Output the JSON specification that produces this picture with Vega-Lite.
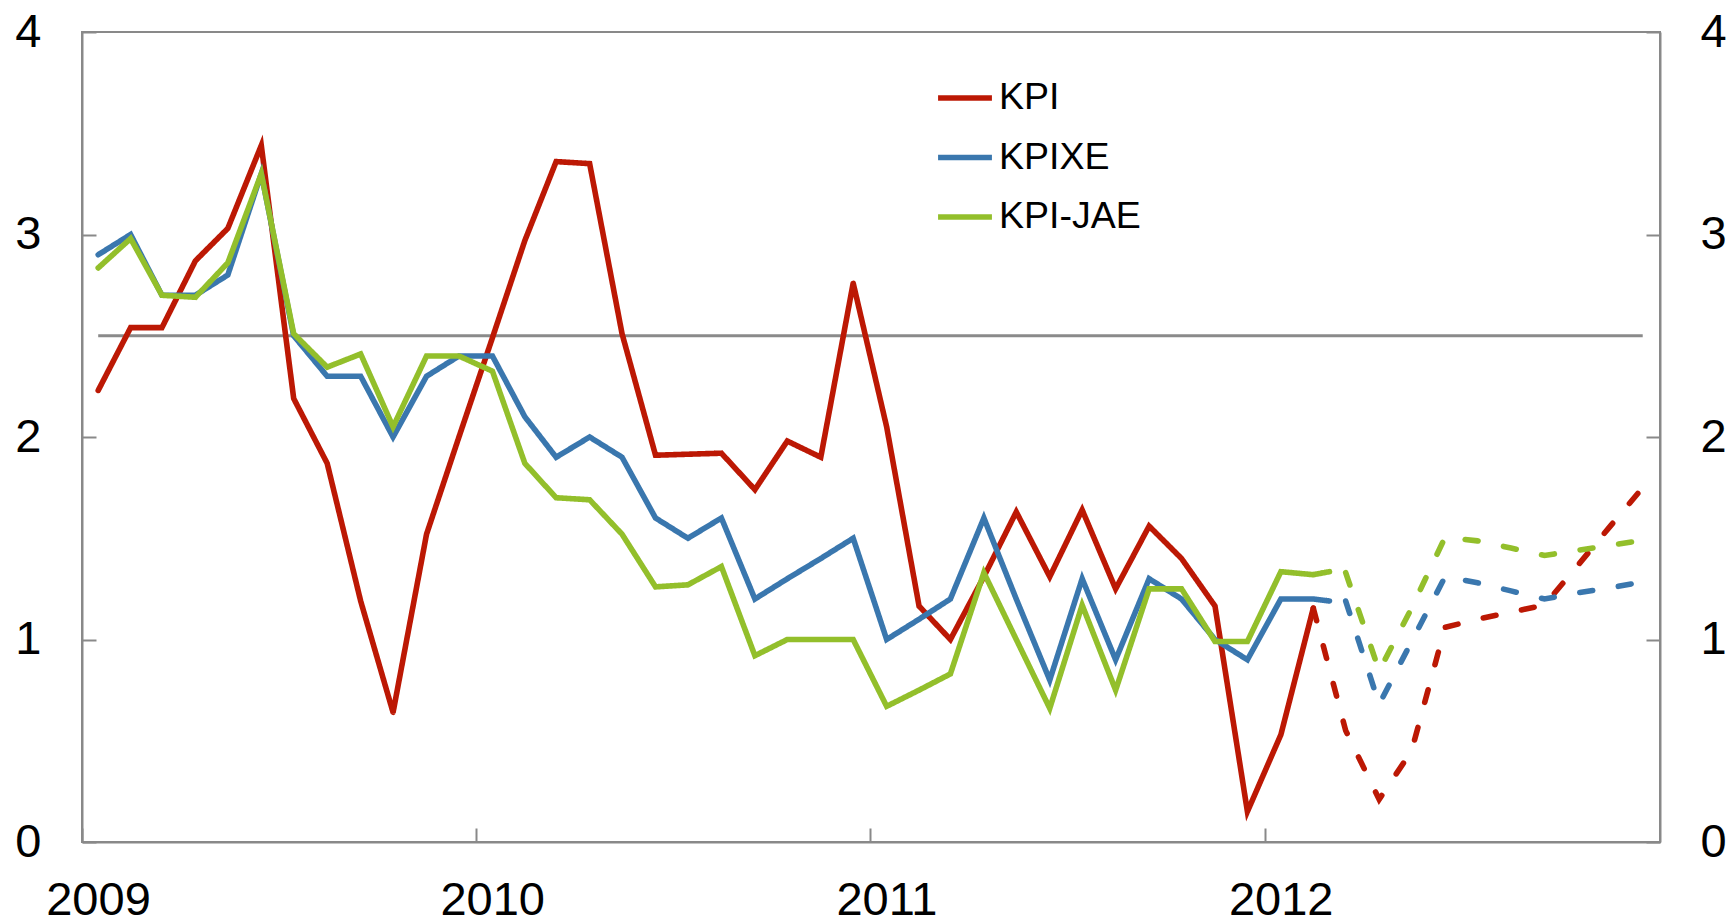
{
  "$schema": "https://vega.github.io/schema/vega-lite/v6.json",
  "width": 1578,
  "height": 810,
  "autosize": {"type": "none"},
  "padding": {"left": 82, "top": 32, "right": 71, "bottom": 80},
  "background": "white",
  "config": {
    "view": {"stroke": "#898989", "strokeWidth": 2},
    "font": "Liberation Sans",
    "axis": {
      "grid": false,
      "title": null,
      "domainColor": "#898989",
      "domainWidth": 2,
      "tickColor": "#898989",
      "tickWidth": 2,
      "tickSize": -14,
      "labelFont": "Liberation Sans",
      "labelFontSize": 47,
      "labelColor": "#000000"
    }
  },
  "datasets": {
    "target": [{"start": "2009-01-16", "end": "2012-12-16", "target": 2.5}],
    "series": [
      {"date": "2009-01-16", "series": "KPI", "kind": "actual", "value": 2.23},
      {"date": "2009-02-15", "series": "KPI", "kind": "actual", "value": 2.54},
      {"date": "2009-03-16", "series": "KPI", "kind": "actual", "value": 2.54},
      {"date": "2009-04-16", "series": "KPI", "kind": "actual", "value": 2.87},
      {"date": "2009-05-16", "series": "KPI", "kind": "actual", "value": 3.03},
      {"date": "2009-06-16", "series": "KPI", "kind": "actual", "value": 3.44},
      {"date": "2009-07-16", "series": "KPI", "kind": "actual", "value": 2.19},
      {"date": "2009-08-16", "series": "KPI", "kind": "actual", "value": 1.87},
      {"date": "2009-09-16", "series": "KPI", "kind": "actual", "value": 1.19},
      {"date": "2009-10-16", "series": "KPI", "kind": "actual", "value": 0.64},
      {"date": "2009-11-16", "series": "KPI", "kind": "actual", "value": 1.52},
      {"date": "2009-12-16", "series": "KPI", "kind": "actual", "value": 2.0},
      {"date": "2010-01-16", "series": "KPI", "kind": "actual", "value": 2.49},
      {"date": "2010-02-15", "series": "KPI", "kind": "actual", "value": 2.97},
      {"date": "2010-03-16", "series": "KPI", "kind": "actual", "value": 3.36},
      {"date": "2010-04-16", "series": "KPI", "kind": "actual", "value": 3.35},
      {"date": "2010-05-16", "series": "KPI", "kind": "actual", "value": 2.51},
      {"date": "2010-06-16", "series": "KPI", "kind": "actual", "value": 1.91},
      {"date": "2010-07-16", "series": "KPI", "kind": "actual", "value": 1.915},
      {"date": "2010-08-16", "series": "KPI", "kind": "actual", "value": 1.92},
      {"date": "2010-09-16", "series": "KPI", "kind": "actual", "value": 1.74},
      {"date": "2010-10-16", "series": "KPI", "kind": "actual", "value": 1.98},
      {"date": "2010-11-16", "series": "KPI", "kind": "actual", "value": 1.9},
      {"date": "2010-12-16", "series": "KPI", "kind": "actual", "value": 2.76},
      {"date": "2011-01-16", "series": "KPI", "kind": "actual", "value": 2.05},
      {"date": "2011-02-15", "series": "KPI", "kind": "actual", "value": 1.165},
      {"date": "2011-03-16", "series": "KPI", "kind": "actual", "value": 1.0},
      {"date": "2011-04-16", "series": "KPI", "kind": "actual", "value": 1.31},
      {"date": "2011-05-16", "series": "KPI", "kind": "actual", "value": 1.63},
      {"date": "2011-06-16", "series": "KPI", "kind": "actual", "value": 1.31},
      {"date": "2011-07-16", "series": "KPI", "kind": "actual", "value": 1.64},
      {"date": "2011-08-16", "series": "KPI", "kind": "actual", "value": 1.25},
      {"date": "2011-09-16", "series": "KPI", "kind": "actual", "value": 1.56},
      {"date": "2011-10-16", "series": "KPI", "kind": "actual", "value": 1.4},
      {"date": "2011-11-16", "series": "KPI", "kind": "actual", "value": 1.165},
      {"date": "2011-12-16", "series": "KPI", "kind": "actual", "value": 0.15},
      {"date": "2012-01-16", "series": "KPI", "kind": "actual", "value": 0.53},
      {"date": "2012-02-15", "series": "KPI", "kind": "actual", "value": 1.155},
      {"date": "2012-02-15", "series": "KPI", "kind": "projection", "value": 1.155},
      {"date": "2012-03-16", "series": "KPI", "kind": "projection", "value": 0.55},
      {"date": "2012-04-16", "series": "KPI", "kind": "projection", "value": 0.21},
      {"date": "2012-05-16", "series": "KPI", "kind": "projection", "value": 0.45},
      {"date": "2012-06-16", "series": "KPI", "kind": "projection", "value": 1.06},
      {"date": "2012-07-16", "series": "KPI", "kind": "projection", "value": 1.1},
      {"date": "2012-08-16", "series": "KPI", "kind": "projection", "value": 1.135},
      {"date": "2012-09-16", "series": "KPI", "kind": "projection", "value": 1.17},
      {"date": "2012-10-16", "series": "KPI", "kind": "projection", "value": 1.36},
      {"date": "2012-11-16", "series": "KPI", "kind": "projection", "value": 1.56},
      {"date": "2012-12-16", "series": "KPI", "kind": "projection", "value": 1.75},

      {"date": "2009-01-16", "series": "KPIXE", "kind": "actual", "value": 2.9},
      {"date": "2009-02-15", "series": "KPIXE", "kind": "actual", "value": 3.0},
      {"date": "2009-03-16", "series": "KPIXE", "kind": "actual", "value": 2.7},
      {"date": "2009-04-16", "series": "KPIXE", "kind": "actual", "value": 2.7},
      {"date": "2009-05-16", "series": "KPIXE", "kind": "actual", "value": 2.8},
      {"date": "2009-06-16", "series": "KPIXE", "kind": "actual", "value": 3.3},
      {"date": "2009-07-16", "series": "KPIXE", "kind": "actual", "value": 2.5},
      {"date": "2009-08-16", "series": "KPIXE", "kind": "actual", "value": 2.3},
      {"date": "2009-09-16", "series": "KPIXE", "kind": "actual", "value": 2.3},
      {"date": "2009-10-16", "series": "KPIXE", "kind": "actual", "value": 2.0},
      {"date": "2009-11-16", "series": "KPIXE", "kind": "actual", "value": 2.3},
      {"date": "2009-12-16", "series": "KPIXE", "kind": "actual", "value": 2.4},
      {"date": "2010-01-16", "series": "KPIXE", "kind": "actual", "value": 2.4},
      {"date": "2010-02-15", "series": "KPIXE", "kind": "actual", "value": 2.1},
      {"date": "2010-03-16", "series": "KPIXE", "kind": "actual", "value": 1.9},
      {"date": "2010-04-16", "series": "KPIXE", "kind": "actual", "value": 2.0},
      {"date": "2010-05-16", "series": "KPIXE", "kind": "actual", "value": 1.9},
      {"date": "2010-06-16", "series": "KPIXE", "kind": "actual", "value": 1.6},
      {"date": "2010-07-16", "series": "KPIXE", "kind": "actual", "value": 1.5},
      {"date": "2010-08-16", "series": "KPIXE", "kind": "actual", "value": 1.6},
      {"date": "2010-09-16", "series": "KPIXE", "kind": "actual", "value": 1.2},
      {"date": "2010-10-16", "series": "KPIXE", "kind": "actual", "value": 1.3},
      {"date": "2010-11-16", "series": "KPIXE", "kind": "actual", "value": 1.4},
      {"date": "2010-12-16", "series": "KPIXE", "kind": "actual", "value": 1.5},
      {"date": "2011-01-16", "series": "KPIXE", "kind": "actual", "value": 1.0},
      {"date": "2011-02-15", "series": "KPIXE", "kind": "actual", "value": 1.1},
      {"date": "2011-03-16", "series": "KPIXE", "kind": "actual", "value": 1.2},
      {"date": "2011-04-16", "series": "KPIXE", "kind": "actual", "value": 1.6},
      {"date": "2011-05-16", "series": "KPIXE", "kind": "actual", "value": 1.2},
      {"date": "2011-06-16", "series": "KPIXE", "kind": "actual", "value": 0.8},
      {"date": "2011-07-16", "series": "KPIXE", "kind": "actual", "value": 1.3},
      {"date": "2011-08-16", "series": "KPIXE", "kind": "actual", "value": 0.9},
      {"date": "2011-09-16", "series": "KPIXE", "kind": "actual", "value": 1.3},
      {"date": "2011-10-16", "series": "KPIXE", "kind": "actual", "value": 1.2},
      {"date": "2011-11-16", "series": "KPIXE", "kind": "actual", "value": 1.0},
      {"date": "2011-12-16", "series": "KPIXE", "kind": "actual", "value": 0.9},
      {"date": "2012-01-16", "series": "KPIXE", "kind": "actual", "value": 1.2},
      {"date": "2012-02-15", "series": "KPIXE", "kind": "actual", "value": 1.2},
      {"date": "2012-03-01", "series": "KPIXE", "kind": "actual", "value": 1.19},
      {"date": "2012-03-16", "series": "KPIXE", "kind": "projection", "value": 1.19},
      {"date": "2012-04-16", "series": "KPIXE", "kind": "projection", "value": 0.68},
      {"date": "2012-05-16", "series": "KPIXE", "kind": "projection", "value": 0.99},
      {"date": "2012-06-16", "series": "KPIXE", "kind": "projection", "value": 1.31},
      {"date": "2012-07-16", "series": "KPIXE", "kind": "projection", "value": 1.28},
      {"date": "2012-08-16", "series": "KPIXE", "kind": "projection", "value": 1.24},
      {"date": "2012-09-16", "series": "KPIXE", "kind": "projection", "value": 1.2},
      {"date": "2012-10-16", "series": "KPIXE", "kind": "projection", "value": 1.23},
      {"date": "2012-11-16", "series": "KPIXE", "kind": "projection", "value": 1.255},
      {"date": "2012-12-16", "series": "KPIXE", "kind": "projection", "value": 1.285},

      {"date": "2009-01-16", "series": "KPI-JAE", "kind": "actual", "value": 2.835},
      {"date": "2009-02-15", "series": "KPI-JAE", "kind": "actual", "value": 2.98},
      {"date": "2009-03-16", "series": "KPI-JAE", "kind": "actual", "value": 2.7},
      {"date": "2009-04-16", "series": "KPI-JAE", "kind": "actual", "value": 2.69},
      {"date": "2009-05-16", "series": "KPI-JAE", "kind": "actual", "value": 2.86},
      {"date": "2009-06-16", "series": "KPI-JAE", "kind": "actual", "value": 3.3},
      {"date": "2009-07-16", "series": "KPI-JAE", "kind": "actual", "value": 2.51},
      {"date": "2009-08-16", "series": "KPI-JAE", "kind": "actual", "value": 2.345},
      {"date": "2009-09-16", "series": "KPI-JAE", "kind": "actual", "value": 2.41},
      {"date": "2009-10-16", "series": "KPI-JAE", "kind": "actual", "value": 2.05},
      {"date": "2009-11-16", "series": "KPI-JAE", "kind": "actual", "value": 2.4},
      {"date": "2009-12-16", "series": "KPI-JAE", "kind": "actual", "value": 2.4},
      {"date": "2010-01-16", "series": "KPI-JAE", "kind": "actual", "value": 2.325},
      {"date": "2010-02-15", "series": "KPI-JAE", "kind": "actual", "value": 1.87},
      {"date": "2010-03-16", "series": "KPI-JAE", "kind": "actual", "value": 1.7},
      {"date": "2010-04-16", "series": "KPI-JAE", "kind": "actual", "value": 1.69},
      {"date": "2010-05-16", "series": "KPI-JAE", "kind": "actual", "value": 1.52},
      {"date": "2010-06-16", "series": "KPI-JAE", "kind": "actual", "value": 1.26},
      {"date": "2010-07-16", "series": "KPI-JAE", "kind": "actual", "value": 1.27},
      {"date": "2010-08-16", "series": "KPI-JAE", "kind": "actual", "value": 1.36},
      {"date": "2010-09-16", "series": "KPI-JAE", "kind": "actual", "value": 0.92},
      {"date": "2010-10-16", "series": "KPI-JAE", "kind": "actual", "value": 1.0},
      {"date": "2010-11-16", "series": "KPI-JAE", "kind": "actual", "value": 1.0},
      {"date": "2010-12-16", "series": "KPI-JAE", "kind": "actual", "value": 1.0},
      {"date": "2011-01-16", "series": "KPI-JAE", "kind": "actual", "value": 0.67},
      {"date": "2011-02-15", "series": "KPI-JAE", "kind": "actual", "value": 0.75},
      {"date": "2011-03-16", "series": "KPI-JAE", "kind": "actual", "value": 0.83},
      {"date": "2011-04-16", "series": "KPI-JAE", "kind": "actual", "value": 1.33},
      {"date": "2011-05-16", "series": "KPI-JAE", "kind": "actual", "value": 1.0},
      {"date": "2011-06-16", "series": "KPI-JAE", "kind": "actual", "value": 0.66},
      {"date": "2011-07-16", "series": "KPI-JAE", "kind": "actual", "value": 1.17},
      {"date": "2011-08-16", "series": "KPI-JAE", "kind": "actual", "value": 0.75},
      {"date": "2011-09-16", "series": "KPI-JAE", "kind": "actual", "value": 1.25},
      {"date": "2011-10-16", "series": "KPI-JAE", "kind": "actual", "value": 1.25},
      {"date": "2011-11-16", "series": "KPI-JAE", "kind": "actual", "value": 0.99},
      {"date": "2011-12-16", "series": "KPI-JAE", "kind": "actual", "value": 0.99},
      {"date": "2012-01-16", "series": "KPI-JAE", "kind": "actual", "value": 1.335},
      {"date": "2012-02-15", "series": "KPI-JAE", "kind": "actual", "value": 1.32},
      {"date": "2012-03-01", "series": "KPI-JAE", "kind": "actual", "value": 1.335},
      {"date": "2012-03-16", "series": "KPI-JAE", "kind": "projection", "value": 1.33},
      {"date": "2012-04-16", "series": "KPI-JAE", "kind": "projection", "value": 0.845},
      {"date": "2012-05-16", "series": "KPI-JAE", "kind": "projection", "value": 1.155},
      {"date": "2012-06-16", "series": "KPI-JAE", "kind": "projection", "value": 1.505},
      {"date": "2012-07-16", "series": "KPI-JAE", "kind": "projection", "value": 1.487},
      {"date": "2012-08-16", "series": "KPI-JAE", "kind": "projection", "value": 1.452},
      {"date": "2012-09-16", "series": "KPI-JAE", "kind": "projection", "value": 1.415},
      {"date": "2012-10-16", "series": "KPI-JAE", "kind": "projection", "value": 1.44},
      {"date": "2012-11-16", "series": "KPI-JAE", "kind": "projection", "value": 1.465},
      {"date": "2012-12-16", "series": "KPI-JAE", "kind": "projection", "value": 1.49}
    ]
  },
  "layer": [
    {
      "data": {"name": "target"},
      "mark": {"type": "rule", "color": "#8a8a8a", "strokeWidth": 3},
      "encoding": {
        "x": {
          "field": "start",
          "type": "temporal",
          "scale": {"type": "utc", "domain": [{"year": 2009, "month": 1, "date": 1, "utc": true}, {"year": 2013, "month": 1, "date": 1, "utc": true}]},
          "axis": {
            "values": [{"year": 2009, "month": 1, "date": 1, "utc": true}, {"year": 2010, "month": 1, "date": 1, "utc": true}, {"year": 2011, "month": 1, "date": 1, "utc": true}, {"year": 2012, "month": 1, "date": 1, "utc": true}],
            "format": "%Y",
            "labelOffset": 16,
            "labelPadding": 49,
            "labelAlign": "center",
            "labelBaseline": "top"
          }
        },
        "x2": {"field": "end"},
        "y": {
          "field": "target",
          "type": "quantitative",
          "scale": {"domain": [0, 4], "nice": false},
          "axis": {"orient": "left", "values": [0, 1, 2, 3, 4], "labelPadding": 55, "labelAlign": "right", "labelBaseline": "middle"}
        }
      }
    },
    {
      "data": {"name": "series"},
      "mark": {"type": "line", "strokeWidth": 5.6, "strokeCap": "round"},
      "encoding": {
        "x": {
          "field": "date",
          "type": "temporal",
          "axis": {
            "values": [{"year": 2009, "month": 1, "date": 1, "utc": true}, {"year": 2010, "month": 1, "date": 1, "utc": true}, {"year": 2011, "month": 1, "date": 1, "utc": true}, {"year": 2012, "month": 1, "date": 1, "utc": true}],
            "format": "%Y",
            "labelOffset": 16,
            "labelPadding": 49,
            "labelAlign": "center",
            "labelBaseline": "top"
          }
        },
        "y": {
          "field": "value",
          "type": "quantitative",
          "axis": {"orient": "right", "values": [0, 1, 2, 3, 4], "labelPadding": 54, "labelAlign": "left", "labelBaseline": "middle"}
        },
        "color": {
          "field": "series",
          "type": "nominal",
          "scale": {"domain": ["KPI", "KPIXE", "KPI-JAE"], "range": ["#BC1804", "#3A77AE", "#93BF2B"]},
          "legend": {
            "orient": "none",
            "legendX": 853,
            "legendY": 36,
            "title": null,
            "padding": 0,
            "symbolType": "stroke",
            "symbolSize": 2900,
            "symbolStrokeWidth": 5.6,
            "labelFont": "Liberation Sans",
            "labelFontSize": 37.5,
            "labelColor": "#000000",
            "labelOffset": 4,
            "rowPadding": 10.5
          }
        },
        "strokeDash": {
          "field": "kind",
          "type": "nominal",
          "scale": {"domain": ["actual", "projection"], "range": [[1, 0], [13, 26]]},
          "legend": null
        }
      }
    }
  ],
  "resolve": {"axis": {"y": "independent"}}
}
